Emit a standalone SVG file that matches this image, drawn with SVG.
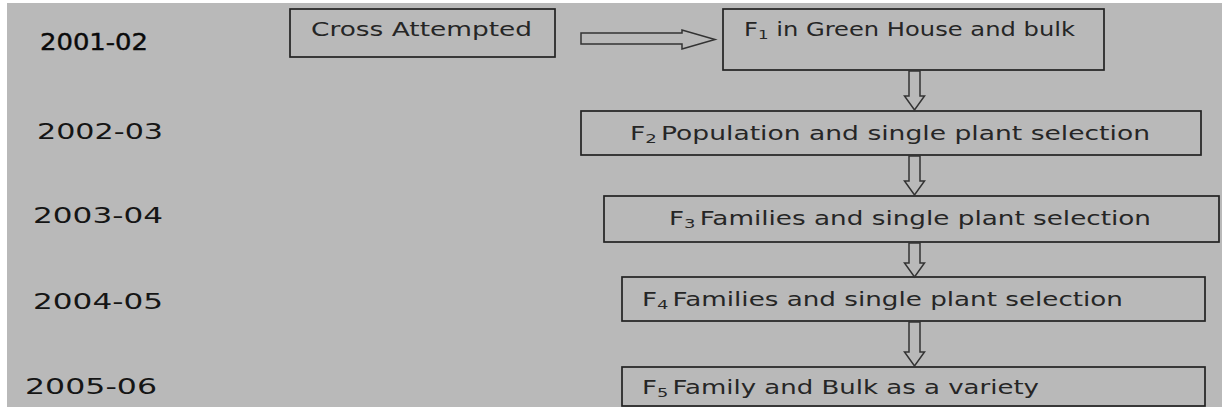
<svg xmlns="http://www.w3.org/2000/svg" width="1222" height="410" viewBox="0 0 1222 410">
<style>
.box{fill:none;stroke:#222;stroke-width:1.7}
.arr{fill:#b9b9b9;stroke:#333;stroke-width:1.5;stroke-linejoin:miter}
.yr{font-family:"DejaVu Sans",Verdana,sans-serif;font-size:22px;fill:#151515}
.lbl{font-family:"DejaVu Sans",Verdana,sans-serif;font-size:19px;fill:#262626}
.sub{font-size:13px}
</style>
<rect x="0" y="0" width="1222" height="410" fill="#ffffff"/>
<rect x="7" y="3" width="1215" height="404" fill="#b9b9b9"/>
<g id="years">
<text class="yr" x="40" y="50" textLength="108" lengthAdjust="spacingAndGlyphs" style="font-size:23px;fill:#0a0a0a;stroke:#0a0a0a;stroke-width:0.4">2001-02</text>
<text class="yr" x="37" y="139" textLength="126" lengthAdjust="spacingAndGlyphs">2002-03</text>
<text class="yr" x="33" y="223" textLength="130" lengthAdjust="spacingAndGlyphs">2003-04</text>
<text class="yr" x="33" y="309" textLength="130" lengthAdjust="spacingAndGlyphs">2004-05</text>
<text class="yr" x="25" y="394" textLength="132" lengthAdjust="spacingAndGlyphs">2005-06</text>
</g>
<g id="cross">
<rect class="box" x="290" y="9" width="265" height="48"/>
<text class="lbl" x="311" y="36" textLength="221" lengthAdjust="spacingAndGlyphs">Cross Attempted</text>
</g>
<g id="f1">
<rect class="box" x="723" y="9" width="381" height="61"/>
<text class="lbl" x="744" y="36" textLength="331" lengthAdjust="spacingAndGlyphs">F<tspan class="sub" dy="3">1</tspan><tspan dy="-3"> in Green House and bulk</tspan></text>
</g>
<g id="f2">
<rect class="box" x="581" y="111" width="620" height="44"/>
<text class="lbl" x="630" y="140" textLength="520" lengthAdjust="spacingAndGlyphs">F<tspan class="sub" dy="3">2</tspan><tspan dy="-3" dx="3">Population and single plant selection</tspan></text>
</g>
<g id="f3">
<rect class="box" x="604" y="196" width="615" height="46"/>
<text class="lbl" x="669" y="225" textLength="482" lengthAdjust="spacingAndGlyphs">F<tspan class="sub" dy="3">3</tspan><tspan dy="-3" dx="3">Families and single plant selection</tspan></text>
</g>
<g id="f4">
<rect class="box" x="622" y="277" width="583" height="44"/>
<text class="lbl" x="642" y="306" textLength="481" lengthAdjust="spacingAndGlyphs">F<tspan class="sub" dy="3">4</tspan><tspan dy="-3" dx="3">Families and single plant selection</tspan></text>
</g>
<g id="f5">
<rect class="box" x="622" y="367" width="583" height="39"/>
<text class="lbl" x="642" y="394" textLength="397" lengthAdjust="spacingAndGlyphs">F<tspan class="sub" dy="3">5</tspan><tspan dy="-3" dx="3">Family and Bulk as a variety</tspan></text>
</g>
<g id="connectors">
<polygon class="arr" points="581,33 682,33 682,30 715,39.5 682,49 682,44 581,44"/>
<polygon class="arr" points="909,71 920,71 920,96 924.5,96 914.5,110 904.5,96 909,96"/>
<polygon class="arr" points="909,156 920,156 920,181 924.5,181 914.5,195 904.5,181 909,181"/>
<polygon class="arr" points="909,243 920,243 920,263 924.5,263 914.5,277 904.5,263 909,263"/>
<polygon class="arr" points="909,322 920,322 920,352 924.5,352 914.5,366 904.5,352 909,352"/>
</g>
</svg>
